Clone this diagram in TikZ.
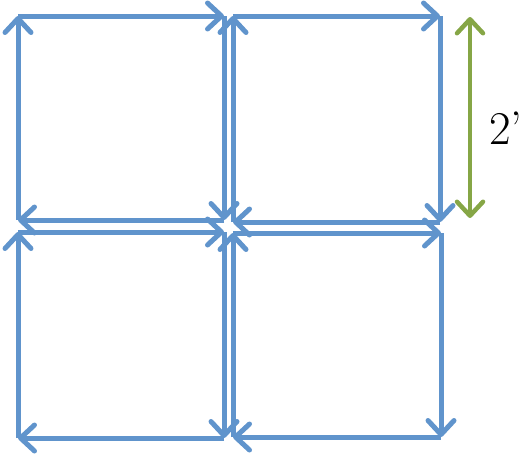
\documentclass[tikz,border=0pt]{standalone}
\usetikzlibrary{arrows.meta}
\definecolor{sideblue}{RGB}{96,148,204}
\definecolor{dimgreen}{RGB}{134,166,70}
\tikzset{
  side/.style={draw=sideblue,line width=5pt,
    -{Straight Barb[length=14pt,width=26pt,line width=5pt,round]}},
  dimline/.style={draw=dimgreen,line width=4.5pt,
    {Straight Barb[length=14pt,width=26pt,line width=4.5pt,round]}-{Straight Barb[length=14pt,width=26pt,line width=4.5pt,round]}}
}
\begin{document}
\begin{tikzpicture}[x=1pt,y=-1pt]
  \useasboundingbox (0,0) rectangle (526,455);
  % corners of the four squares: l,r,t,b
  \foreach \name/\l/\r/\t/\b in {tl/18/224/16/220, tr/233/440/16/222,
                                  bl/18/224/232/438, br/233/441/233/437}{
    \coordinate (\name-nw) at (\l,\t);
    \coordinate (\name-ne) at (\r,\t);
    \coordinate (\name-se) at (\r,\b);
    \coordinate (\name-sw) at (\l,\b);
    \draw[side] (\name-sw) -- (\name-nw);
    \draw[side] (\name-nw) -- (\name-ne);
    \draw[side] (\name-ne) -- (\name-se);
    \draw[side] (\name-se) -- (\name-sw);
  }
  % dimension
  \coordinate (dimtop) at (470,17);
  \coordinate (dimbot) at (470,218);
  \draw[dimline] (dimtop) -- (dimbot);
  \node[font=\fontsize{47}{54}\selectfont] (dimlabel) at (506,128) {2’};
\end{tikzpicture}
\end{document}
